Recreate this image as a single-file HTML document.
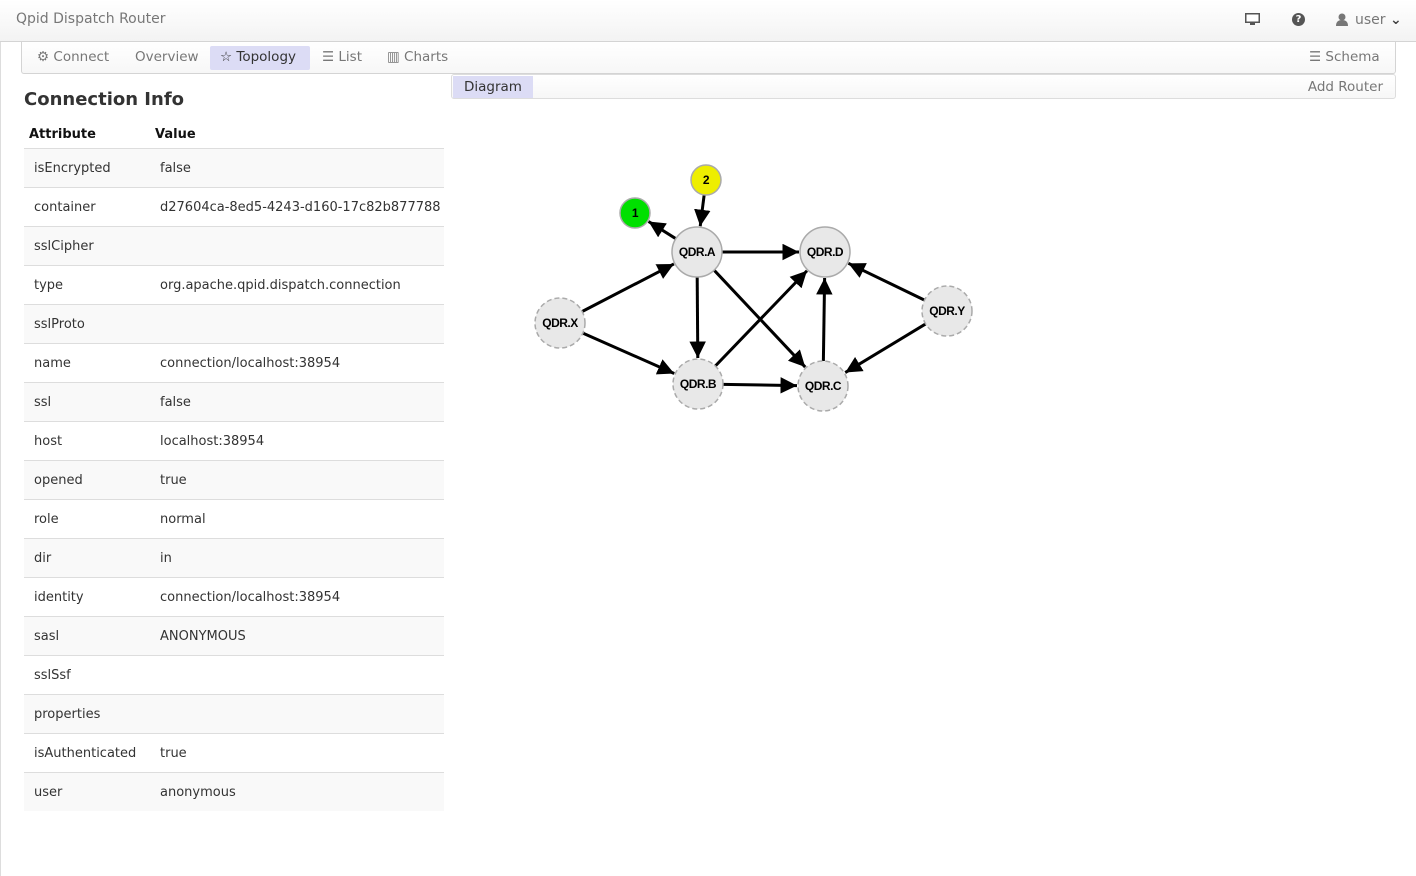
<!DOCTYPE html>
<html><head><meta charset="utf-8"><style>
*{box-sizing:border-box}
body{margin:0;width:1416px;height:876px;overflow:hidden;background:#fff;font-family:"DejaVu Sans","Liberation Sans",sans-serif;color:#333;position:relative}
.top{position:absolute;left:0;top:0;width:1416px;height:42px;background:linear-gradient(#fff,#f3f3f3);border-bottom:1px solid #d4d4d4}
.brand{position:absolute;left:16px;top:11px;font-size:14px;color:#777}
.leftline{position:absolute;left:0;top:42px;width:1px;height:834px;background:#ddd}
.nav{position:absolute;left:21px;top:42px;width:1375px;height:32px;border:1px solid #d4d4d4;border-top:none;border-radius:0 0 3px 3px;background:linear-gradient(#fff,#f7f7f7);font-size:13.5px;color:#777}
.nav span{position:absolute;top:7px}
.tab{position:absolute;left:188px;top:4px;width:100px;height:24px;background:#dcdcf5;border-radius:2px}
.sub{position:absolute;left:451px;top:74px;width:945px;height:25px;border:1px solid #ddd;border-radius:3px;background:linear-gradient(#fff,#f7f7f7);font-size:13.5px;color:#777}
h2{position:absolute;left:24px;top:89px;margin:0;font-size:18px;font-weight:bold;color:#333}
table{position:absolute;left:24px;top:121px;width:420px;border-collapse:collapse;font-size:13px;table-layout:fixed}
th{text-align:left;height:27px;font-size:13px;color:#111;padding:0 5px;vertical-align:middle}
td{height:39px;border-top:1px solid #ddd;padding:1px 10px 0;color:#333;white-space:nowrap;overflow:hidden}
tr:nth-child(even) td{background:#f9f9f9}
col.a{width:126px}
</style></head><body>
<div class="top"><div class="brand">Qpid Dispatch Router</div>
<svg style="position:absolute;left:1245px;top:13px" width="15" height="13"><rect x="0" y="0" width="15" height="10" fill="#555"/><rect x="1.5" y="1.5" width="12" height="7" fill="#fff"/><rect x="5" y="10" width="5" height="2" fill="#555"/></svg>
<div style="position:absolute;left:1292px;top:13px;width:13px;height:13px;border-radius:50%;background:#555;color:#fff;font-size:10px;font-weight:bold;text-align:center;line-height:13px">?</div>
<svg style="position:absolute;left:1336px;top:13px" width="12" height="13"><circle cx="6" cy="4" r="3.5" fill="#777"/><path d="M0 13 Q0 7 6 7 Q12 7 12 13Z" fill="#777"/></svg>
<div style="position:absolute;left:1355px;top:12px;font-size:14px;color:#777">user <b style="color:#444">&#8964;</b></div>
</div>
<div class="leftline"></div>
<div class="nav"><div class="tab"></div>
<span style="left:15px">⚙ Connect</span><span style="left:113px">Overview</span><span style="left:198px;color:#333">☆ Topology</span><span style="left:300px">☰ List</span><span style="left:365px">▥ Charts</span><span style="left:1287px">☰ Schema</span></div>
<div class="sub"><div style="position:absolute;left:1px;top:1px;width:80px;height:22px;background:#dcdcf5"></div><span style="position:absolute;left:12px;top:4px;color:#333">Diagram</span><span style="position:absolute;right:12px;top:4px">Add Router</span></div>
<h2>Connection Info</h2>
<table><colgroup><col class="a"><col></colgroup>
<tr><th>Attribute</th><th>Value</th></tr>
<tr><td>isEncrypted</td><td>false</td></tr>
<tr><td>container</td><td>d27604ca-8ed5-4243-d160-17c82b877788</td></tr>
<tr><td>sslCipher</td><td></td></tr>
<tr><td>type</td><td>org.apache.qpid.dispatch.connection</td></tr>
<tr><td>sslProto</td><td></td></tr>
<tr><td>name</td><td>connection/localhost:38954</td></tr>
<tr><td>ssl</td><td>false</td></tr>
<tr><td>host</td><td>localhost:38954</td></tr>
<tr><td>opened</td><td>true</td></tr>
<tr><td>role</td><td>normal</td></tr>
<tr><td>dir</td><td>in</td></tr>
<tr><td>identity</td><td>connection/localhost:38954</td></tr>
<tr><td>sasl</td><td>ANONYMOUS</td></tr>
<tr><td>sslSsf</td><td></td></tr>
<tr><td>properties</td><td></td></tr>
<tr><td>isAuthenticated</td><td>true</td></tr>
<tr><td>user</td><td>anonymous</td></tr>
</table>
<svg id="g" style="position:absolute;left:0;top:0" width="1416" height="876">
<defs><marker id="ar" viewBox="0 0 10 10" refX="10" refY="5" markerWidth="5.5" markerHeight="5.5" orient="auto" markerUnits="strokeWidth"><path d="M0 0L10 5L0 10Z" fill="#000"/></marker></defs>
</svg>
<script>
var N={A:[697,252,25,'QDR.A',1],D:[825,252,25,'QDR.D',1],X:[560,323,25,'QDR.X',0],Y:[947,311,25,'QDR.Y',0],B:[698,384,25,'QDR.B',0],C:[823,386,25,'QDR.C',0],n1:[635,213,15,'1','#00e000'],n2:[706,180,15,'2','#eeee00']};
var E=[['X','A'],['X','B'],['A','B'],['A','D'],['A','C'],['B','C'],['B','D'],['C','D'],['Y','D'],['Y','C'],['A','n1'],['n2','A']];
var g=document.getElementById('g'),s='';
E.forEach(function(e){var a=N[e[0]],b=N[e[1]],dx=b[0]-a[0],dy=b[1]-a[1],l=Math.hypot(dx,dy),ux=dx/l,uy=dy/l;
s+='<line x1="'+(a[0]+ux*a[2])+'" y1="'+(a[1]+uy*a[2])+'" x2="'+(b[0]-ux*(b[2]+1))+'" y2="'+(b[1]-uy*(b[2]+1))+'" stroke="#000" stroke-width="3" marker-end="url(#ar)"/>';});
for(var k in N){var n=N[k];var fill=typeof n[4]=='string'?n[4]:'#e8e8e8';var dash=n[4]===0?' stroke-dasharray="5,3"':'';
s+='<circle cx="'+n[0]+'" cy="'+n[1]+'" r="'+n[2]+'" fill="'+fill+'" stroke="#aaa" stroke-width="1.5"'+dash+'/>';
s+='<text x="'+n[0]+'" y="'+(n[1]+4)+'" text-anchor="middle" font-family="Liberation Sans,sans-serif" font-weight="bold" font-size="12" fill="#000" letter-spacing="-0.5">'+n[3]+'</text>';}
g.insertAdjacentHTML('beforeend',s);
</script>
</body></html>
